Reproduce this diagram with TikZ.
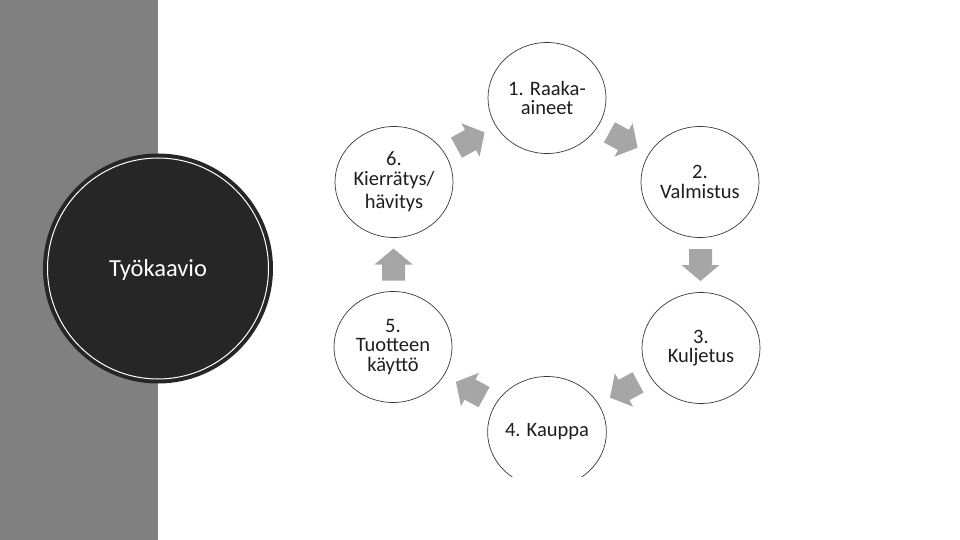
\documentclass[tikz,border=0pt]{standalone}
\usepackage{fontspec}
\setmainfont{Carlito}
\usetikzlibrary{shapes.geometric}
\definecolor{band}{HTML}{808080}
\definecolor{darkfill}{HTML}{262626}
\definecolor{arrgray}{HTML}{A6A6A6}
\definecolor{ringline}{HTML}{3A3A3A}
\definecolor{txt}{HTML}{1E1E1E}
\tikzset{
  stage/.style={ellipse, draw=ringline, line width=0.7pt, fill=white, minimum width=118pt, minimum height=111pt, inner sep=0pt, align=center, text=txt, font=\fontsize{20.5}{19.5}\selectfont},
  arrowfill/.style={fill=arrgray}
}
\newcommand{\blockarrow}[2]{\fill[arrowfill, shift={(#1)}, rotate=#2] (-16,-11.5) -- (0,-11.5) -- (0,-19) -- (16,0) -- (0,19) -- (0,11.5) -- (-16,11.5) -- cycle;}
\begin{document}
\begin{tikzpicture}[x=1pt,y=-1pt]
\useasboundingbox (0,0) rectangle (960,540);
\fill[white] (0,0) rectangle (960,540);
\fill[band] (0,0) rectangle (158,540);
% title circle
\node[circle, fill=darkfill, minimum size=230pt, inner sep=0pt] (title) at (158,268.5) {};
\node[circle, draw=white, line width=1pt, minimum size=221pt, inner sep=0pt] (titlering) at (title) {};
\node[text=white, font=\fontsize{24.5}{26}\selectfont] (titletext) at (158,270) {Työkaavio};
% stages
\node[stage, font=\fontsize{20.5}{18.5}\selectfont] (n1) at (547,98) {1. Raaka-\\aineet};
\node[stage] (n2) at (700,182) {2.\\Valmistus};
\node[stage] (n3) at (701,348) {3.\\Kuljetus};
\begin{scope}
\clip (0,0) rectangle (960,476);
\node[stage] (n4) at (547,432) {4. Kauppa};
\end{scope}
\node[stage] (n5) at (393,347) {5.\\Tuotteen\\käyttö};
\node[stage] (n6) at (394,182) {6.\\Kierrätys/\\[4pt]hävitys};
% arrows
\path (n1.center) -- (n2.center) coordinate[midway] (m12);
\path (n2.center) -- (n3.center) coordinate[midway] (m23);
\path (n3.center) -- (n4.center) coordinate[midway] (m34);
\path (n4.center) -- (n5.center) coordinate[midway] (m45);
\path (n5.center) -- (n6.center) coordinate[midway] (m56);
\path (n6.center) -- (n1.center) coordinate[midway] (m61);
\blockarrow{m12}{-28.5}
\blockarrow{m23}{-90}
\blockarrow{m34}{-151.5}
\blockarrow{m45}{151.5}
\blockarrow{m56}{90}
\blockarrow{m61}{28.5}
\end{tikzpicture}
\end{document}
